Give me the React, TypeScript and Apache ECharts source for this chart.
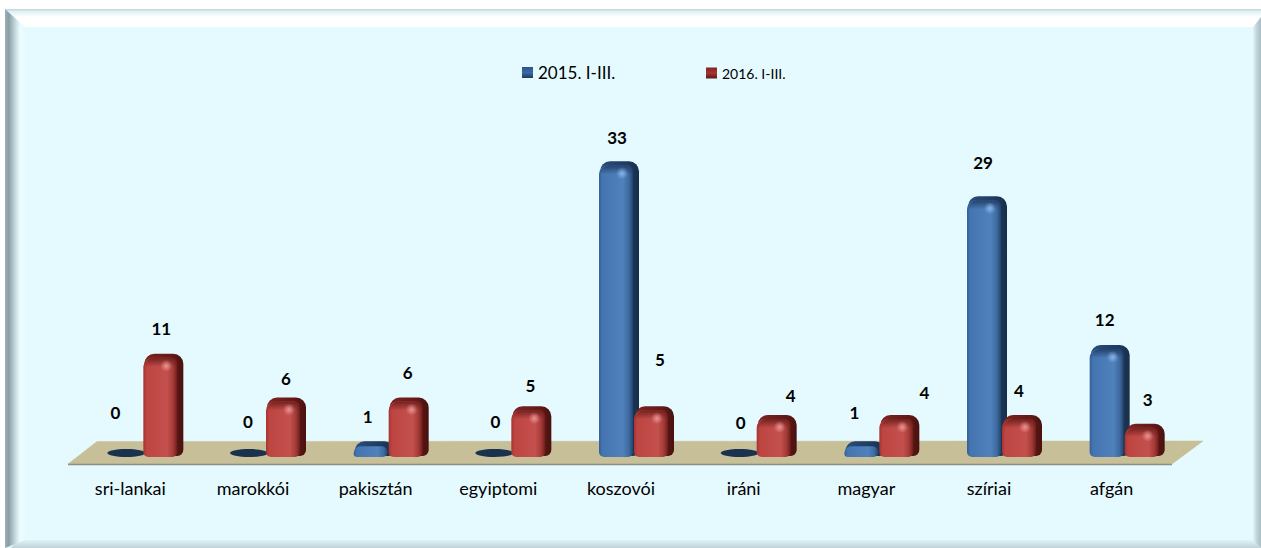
import React, { useEffect, useRef } from "react";
import * as echarts from "echarts";

const categories = ["sri-lankai", "marokkói", "pakisztán", "egyiptomi", "koszovói", "iráni", "magyar", "szíriai", "afgán"];
const values2015 = [0, 0, 1, 0, 33, 0, 1, 29, 12];
const values2016 = [11, 6, 6, 5, 5, 4, 4, 4, 3];
const name2015 = "2015. I-III.";
const name2016 = "2016. I-III.";

// label placement relative to each bar's centre and top
const labelDx2015 = [-13, -3, -6, -1, -2, -1, -10, -4, -5];
const labelDy2015 = [-38, -29, -25, -29, -24, -28, -29, -34, -26];
const labelDx2016 = [-2, 0, -1, -1, 6, 14, 25, -3, 3];
const labelDy2016 = [-25, -19, -25, -21, -47, -20, -23, -25, -24];

const FONT = "Lato, Carlito, 'Open Sans', sans-serif";
const DEPTH = 7;
const BAR_W = 40;
const FACE_W = 34;

const hGrad = (stops: [number, string][]) => ({
  type: "linear", x: 0, y: 0, x2: 1, y2: 0,
  colorStops: stops.map(([offset, color]) => ({ offset, color })),
});
const vGrad = (stops: [number, string][]) => ({
  type: "linear", x: 0, y: 0, x2: 0, y2: 1,
  colorStops: stops.map(([offset, color]) => ({ offset, color })),
});

type Palette = { back: any; face: any; flat: string; glow: string; glowEnd: string; fadeFrom: string; fadeTo: string };
const bluePalette: Palette = {
  back: hGrad([[0, "#2a4d7c"], [0.7, "#1d3a5f"], [1, "#172f4b"]]),
  face: hGrad([[0, "#335f98"], [0.1, "#4575b1"], [0.7, "#4f81bd"], [0.88, "#3f6aa0"], [1, "#23446c"]]),
  flat: "#1b324f",
  glow: "rgba(150,195,245,0.8)",
  glowEnd: "rgba(150,195,245,0)",
  fadeFrom: "rgba(30,58,95,0.9)",
  fadeTo: "rgba(30,58,95,0)",
};
const redPalette: Palette = {
  back: hGrad([[0, "#7c2422"], [0.7, "#621917"], [1, "#4a110f"]]),
  face: hGrad([[0, "#a8332f"], [0.1, "#bd4542"], [0.7, "#c4504d"], [0.88, "#a33a37"], [1, "#6a1d1a"]]),
  flat: "#5c1412",
  glow: "rgba(245,165,165,0.8)",
  glowEnd: "rgba(245,165,165,0)",
  fadeFrom: "rgba(105,28,26,0.9)",
  fadeTo: "rgba(105,28,26,0)",
};

const barRenderer = (offset: number, pal: Palette, dxs: number[], dys: number[]) => (_p: any, api: any) => {
  const i = api.value(0);
  const v = api.value(1);
  const [cx, y0] = api.coord([i, 0]);
  const yV = api.coord([i, v])[1];
  const x = cx + offset;
  const top = yV - DEPTH;
  const children: any[] = [];
  if (v === 0) {
    children.push({
      type: "ellipse",
      shape: { cx: x + 18, cy: y0 - 4, rx: 19, ry: 4 },
      style: { fill: pal.flat },
    });
  } else {
    children.push({
      type: "rect",
      shape: { x: x + 1, y: top, width: BAR_W - 1, height: y0 - top - 1, r: [10, 10, 6, 5] },
      style: { fill: pal.back },
    });
    const faceTop = v > 1 ? yV - 3 : yV - 2;
    children.push({
      type: "rect",
      shape: { x, y: faceTop, width: FACE_W, height: y0 - faceTop, r: [9, 6, 5, 5] },
      style: { fill: pal.face },
    });
    if (v > 1) {
      children.push({
        type: "rect",
        shape: { x: x + 1, y: faceTop, width: FACE_W - 1, height: 9, r: [9, 6, 0, 0] },
        style: { fill: vGrad([[0, pal.fadeFrom], [1, pal.fadeTo]]) },
      });
      children.push({
        type: "circle",
        shape: { cx: x + 23, cy: yV + 5, r: 6 },
        style: {
          fill: {
            type: "radial", x: 0.5, y: 0.5, r: 0.5,
            colorStops: [
              { offset: 0, color: pal.glow },
              { offset: 1, color: pal.glowEnd },
            ],
          },
        },
      });
    }
  }
  children.push({
    type: "text",
    x: x + BAR_W / 2 + dxs[i],
    y: top + dys[i],
    style: {
      text: String(v),
      font: `bold 17px ${FONT}`,
      fill: "#000",
      align: "center",
      verticalAlign: "middle",
    },
  });
  return { type: "group", children };
};

const frameGraphics = (W: number, H: number) => {
  const L = 5, T = 9, IL = 25, IT = 27, IR = W - 8, IB = H - 8;
  return [
    { type: "rect", z: 0, shape: { x: L, y: T, width: W - L, height: H - T }, style: { fill: "#e4faff" } },
    {
      type: "polygon", z: 1,
      shape: { points: [[L, T], [W, T], [W, IT], [IL, IT]] },
      style: { fill: vGrad([[0, "#c3d3d8"], [0.15, "#dff3f6"], [0.45, "#ffffff"], [1, "#ffffff"]]) },
    },
    {
      type: "polygon", z: 2,
      shape: { points: [[L, T], [IL, IT], [IL, IB], [L, H]] },
      style: { fill: hGrad([[0, "#9eb0b6"], [0.18, "#8a9da5"], [0.35, "#a9bcc2"], [0.6, "#d3e8ec"], [0.75, "#ecfbfe"], [1, "#e9fbff"]]) },
    },
    {
      type: "polygon", z: 2,
      shape: { points: [[W, IT - 10], [IR, IT], [IR, IB], [W, H]] },
      style: { fill: hGrad([[0, "#e0f5f9"], [0.5, "#bed2d8"], [1, "#a9bdc4"]]) },
    },
    {
      type: "polygon", z: 1,
      shape: { points: [[L + 12, IB], [IR, IB], [W, H], [L + 6, H]] },
      style: { fill: vGrad([[0, "#dff4f8"], [1, "#c0d2d7"]]) },
    },
    {
      type: "polygon", z: 3,
      shape: { points: [[68, 464], [97, 441.5], [1203, 441], [1172, 464]] },
      style: { fill: "#c6bf97", stroke: "#c6bf97", lineWidth: 0.5 },
    },
    {
      type: "line", z: 3,
      shape: { x1: 68, y1: 464.5, x2: 1172, y2: 464.5 },
      style: { stroke: "#8e9088", lineWidth: 1.5 },
    },
  ];
};

export default function App() {
  const ref = useRef<HTMLDivElement>(null);
  useEffect(() => {
    const chart = echarts.init(ref.current!, null, { renderer: "svg" });
    const legendBase = { orient: "horizontal", itemWidth: 11, itemHeight: 11, icon: "rect", selectedMode: false, padding: 0 };
    chart.setOption({
      animation: false,
      graphic: { elements: frameGraphics(1261, 548) },
      legend: [
        {
          ...legendBase,
          left: 522, top: 64,
          data: [{ name: name2015, itemStyle: { color: vGrad([[0, "#2c5285"], [0.5, "#3c6aa5"], [1, "#1f3a60"]]) } }],
          textStyle: { fontFamily: FONT, fontSize: 17, color: "#000" },
        },
        {
          ...legendBase,
          left: 706, top: 66,
          data: [{ name: name2016, itemStyle: { color: vGrad([[0, "#7c2422"], [0.5, "#a83532"], [1, "#5e1816"]]) } }],
          textStyle: { fontFamily: FONT, fontSize: 14, color: "#000" },
        },
      ],
      grid: { left: 69, width: 1104, top: 107, height: 350 },
      xAxis: {
        type: "category",
        data: categories,
        axisLine: { show: false },
        axisTick: { show: false },
        axisLabel: { margin: 22, fontFamily: FONT, fontSize: 18, color: "#000", interval: 0 },
      },
      yAxis: { type: "value", min: 0, max: 40, show: false, splitLine: { show: false } },
      series: [
        {
          type: "custom", name: name2015, clip: false, z: 5,
          itemStyle: { color: "#3c6aa5" },
          encode: { x: 0, y: 1 },
          renderItem: barRenderer(-22, bluePalette, labelDx2015, labelDy2015),
          data: values2015.map((v, i) => [i, v]),
        },
        {
          type: "custom", name: name2016, clip: false, z: 6,
          itemStyle: { color: "#a83532" },
          encode: { x: 0, y: 1 },
          renderItem: barRenderer(13, redPalette, labelDx2016, labelDy2016),
          data: values2016.map((v, i) => [i, v]),
        },
      ],
    });
    return () => chart.dispose();
  }, []);
  return (
    <div style={{ position: "fixed", left: 0, top: 0, width: 1261, height: 548, background: "#fff", overflow: "hidden" }}>
      <div ref={ref} style={{ width: 1261, height: 548 }} />
    </div>
  );
}
